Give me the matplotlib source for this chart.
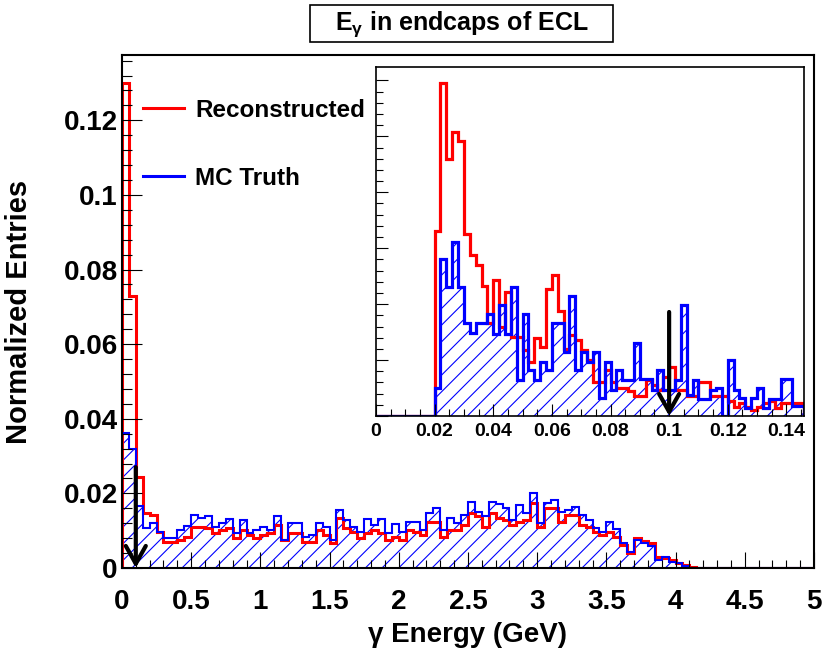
import numpy as np
import matplotlib.pyplot as plt
from matplotlib.lines import Line2D
from matplotlib.patches import Rectangle

plt.rcParams['font.family'] = ['Liberation Sans', 'DejaVu Sans']
plt.rcParams['font.weight'] = 'bold'
plt.rcParams['hatch.color'] = 'blue'
plt.rcParams['hatch.linewidth'] = 0.8
plt.rcParams['mathtext.fontset'] = 'custom'
plt.rcParams['mathtext.rm'] = 'Liberation Sans'

# main histogram: 100 bins of 0.05 GeV, values in units of 1e-3
edges = np.linspace(0, 5, 101)
reco = np.array([
    130, 73, 24.5, 14.8, 14.2, 9.7, 7.0, 7.0, 7.5, 8.4,
    11.0, 11.0, 10.6, 9.3, 10.2, 10.6, 8.0, 10.2, 8.8, 8.0,
    8.8, 9.3, 11.5, 7.5, 9.3, 9.5, 7.0, 7.0, 10.2, 8.8,
    6.6, 13.3, 10.6, 9.7, 8.0, 9.3, 10.2, 9.3, 7.5, 8.4,
    7.5, 10.2, 9.7, 8.8, 12.2, 12.2, 8.4, 10.2, 10.2, 11.5,
    14.7, 13.8, 11.0, 14.7, 13.3, 12.9, 11.5, 12.4, 12.9, 17.3,
    11.0, 16.0, 16.0, 12.4, 14.2, 14.2, 11.5, 11.0, 9.7, 8.8,
    9.7, 8.4, 6.2, 3.9, 8.0, 7.2, 6.6, 2.9, 2.6, 2.1,
    1.25, 0.7, 0.3, 0.1, 0.05, 0.05, 0.05, 0.05, 0.05, 0.05,
    0.05, 0.05, 0.05, 0.05, 0.05, 0.05, 0.05, 0.05, 0.05, 0.05]) / 1000
truth = np.array([
    36.3, 32.0, 16.6, 10.6, 12.0, 9.7, 8.0, 8.0, 10.2, 11.3,
    14.2, 13.3, 14.0, 11.1, 12.0, 13.0, 9.3, 12.9, 9.3, 10.2,
    11.1, 10.2, 13.8, 7.5, 12.0, 12.0, 8.4, 8.8, 12.0, 11.0,
    7.5, 15.5, 12.9, 11.0, 9.7, 13.0, 11.5, 13.0, 9.3, 11.8,
    9.7, 12.4, 12.4, 10.2, 14.7, 16.0, 10.2, 13.3, 12.0, 14.2,
    17.8, 15.1, 13.8, 17.8, 17.2, 16.0, 12.9, 16.9, 14.7, 20.2,
    12.0, 17.3, 18.2, 15.1, 15.5, 16.4, 14.2, 12.9, 10.6, 9.7,
    12.2, 10.4, 6.6, 4.4, 7.5, 6.6, 5.9, 2.1, 2.9, 1.7,
    1.25, 0.5, 0.1, 0.1, 0.05, 0, 0, 0, 0, 0,
    0, 0, 0, 0, 0, 0, 0, 0, 0, 0]) / 1000

# inset: 0-0.02 empty, then 0.002 GeV bins up to 0.146 (arbitrary units)
inset_edges = np.concatenate(([0.0], np.round(np.arange(0.02, 0.1461, 0.002), 3)))
inset_reco = np.array([0,
    33.0, 59.6, 46.0, 50.7, 49.1, 32.6, 28.8, 27.0, 23.2, 16.6,
    24.4, 16.0, 22.1, 14.2, 14.2, 11.8, 9.7, 13.9, 12.4, 22.7,
    25.3, 18.7, 12.0, 14.5, 13.6, 11.8, 10.0, 6.1, 6.1, 8.2,
    6.1, 5.0, 5.0, 4.4, 3.5, 3.5, 6.4, 5.6, 4.7, 7.0,
    8.8, 4.7, 4.7, 3.5, 3.5, 6.1, 6.1, 3.5, 3.5, 3.5,
    2.6, 1.7, 2.3, 1.7, 1.1, 1.7, 2.3, 2.6, 1.4, 2.3,
    2.3, 2.3, 2.3])
inset_truth = np.array([0,
    5.0, 28.1, 23.0, 31.2, 23.0, 16.6, 14.9, 16.6, 16.6, 18.3,
    14.7, 19.9, 14.7, 23.0, 6.4, 18.3, 8.2, 6.4, 9.7, 8.2,
    16.6, 16.6, 11.5, 21.4, 8.2, 11.5, 9.7, 11.5, 3.2, 9.7,
    4.7, 8.2, 6.4, 6.4, 13.1, 6.7, 6.7, 4.7, 8.2, 4.7,
    4.7, 6.4, 19.9, 3.8, 6.4, 3.0, 3.0, 4.7, 5.0, 0.0,
    10.0, 4.7, 3.2, 1.4, 3.2, 5.0, 1.4, 3.0, 3.0, 6.6,
    6.6, 1.8, 1.8])

cut = 0.1

fig = plt.figure(figsize=(8.24, 6.57), dpi=100)
ax = fig.add_axes([0.148, 0.1355, 0.8398, 0.7808])

ax.stairs(truth, edges, fill=True, facecolor='none', edgecolor='blue', hatch='//', lw=0)
ax.stairs(reco, edges, color='red', lw=2.2)
ax.stairs(truth, edges, color='blue', lw=1.5)
ax.annotate('', xy=(cut, 0), xytext=(cut, 0.027),
            arrowprops=dict(arrowstyle='->,head_length=0.8,head_width=0.45',
                            color='black', lw=3, mutation_scale=16, shrinkA=0, shrinkB=0))

ax.set_xlim(0, 5)
ax.set_ylim(0, 0.1375)
ax.set_xticks(np.arange(0, 5.01, 0.5))
ax.set_xticklabels(['0', '0.5', '1', '1.5', '2', '2.5', '3', '3.5', '4', '4.5', '5'])
ax.set_xticks(np.arange(0, 5.01, 0.1), minor=True)
ax.set_yticks(np.arange(0, 0.121, 0.02))
ax.set_yticklabels(['0', '0.02', '0.04', '0.06', '0.08', '0.1', '0.12'])
ax.set_yticks(np.arange(0, 0.1375, 0.004), minor=True)
ax.tick_params(axis='x', which='major', direction='in', length=11.5, width=0.8, pad=15, labelsize=20)
ax.tick_params(axis='x', which='minor', direction='in', length=5.8, width=0.8)
ax.tick_params(axis='y', which='major', direction='in', length=14.4, width=0.8, pad=3, labelsize=20)
ax.tick_params(axis='y', which='minor', direction='in', length=7.2, width=0.8)
for s in ax.spines.values():
    s.set_linewidth(1.5)
ax.set_xlabel('γ Energy (GeV)', fontsize=20, fontweight='bold')
ax.xaxis.set_label_coords(0.5, -0.105)
ax.set_ylabel('Normalized Entries', fontsize=21, fontweight='bold')
ax.yaxis.set_label_coords(-0.128, 0.5)

handles = [Line2D([], [], color='red', lw=2.2), Line2D([], [], color='blue', lw=2.2)]
ax.legend(handles, ['Reconstructed', 'MC Truth'], loc='upper left',
          bbox_to_anchor=(0.03, 0.915), frameon=False, fontsize=17.5,
          handlelength=1.7, handletextpad=0.45, labelspacing=1.85,
          borderpad=0, borderaxespad=0)

# inset
ins = fig.add_axes([0.4563, 0.3668, 0.5194, 0.5312])
ins.stairs(inset_truth, inset_edges, fill=True, facecolor='none', edgecolor='blue', hatch='//', lw=0)
ins.stairs(inset_reco, inset_edges, color='red', lw=2.3)
ins.stairs(inset_truth, inset_edges, color='blue', lw=2.3)
ins.annotate('', xy=(cut, 0), xytext=(cut, 18.6),
             arrowprops=dict(arrowstyle='->,head_length=0.8,head_width=0.45',
                             color='black', lw=3, mutation_scale=16, shrinkA=0, shrinkB=0))
ins.set_xlim(0, 0.146)
ins.set_ylim(0, 62.4)
ins.set_xticks(np.arange(0, 0.141, 0.02))
ins.set_xticklabels(['0', '0.02', '0.04', '0.06', '0.08', '0.1', '0.12', '0.14'])
ins.set_xticks(np.arange(0, 0.146, 0.005), minor=True)
ins.set_yticks(np.arange(0, 62, 10))
ins.set_yticks(np.arange(0, 62, 2), minor=True)
ins.set_yticklabels([])
ins.tick_params(axis='x', which='major', direction='in', length=9, width=0.8, pad=5, labelsize=14)
ins.tick_params(axis='x', which='minor', direction='in', length=5, width=0.8)
ins.tick_params(axis='y', which='major', direction='in', length=8.6, width=0.8)
ins.tick_params(axis='y', which='minor', direction='in', length=5, width=0.8)
for s in ins.spines.values():
    s.set_linewidth(1.2)

# title box
fig.patches.append(Rectangle((310 / 824, 1 - 42 / 657), 303 / 824, 37 / 657,
                             transform=fig.transFigure, facecolor='white',
                             edgecolor='black', lw=1.2))
fig.text(0.560, 1 - 24 / 657, r'E$_{\mathregular{γ}}$ in endcaps of ECL',
         fontsize=18, fontweight='bold', ha='center', va='center')

fig.savefig('out.png', dpi=100)
